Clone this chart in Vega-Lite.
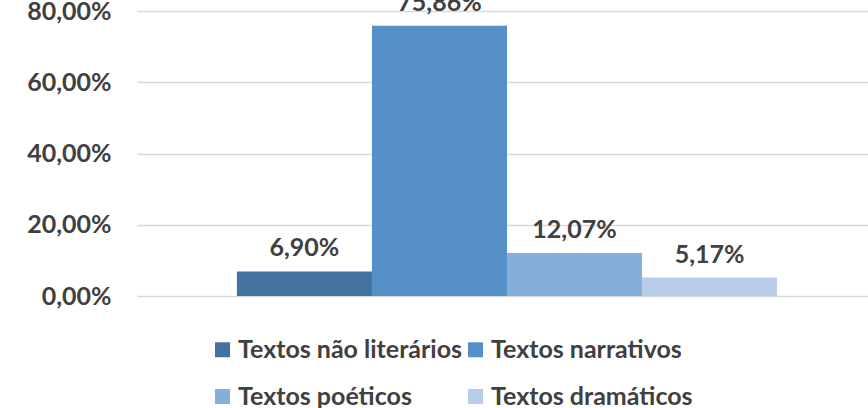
{
  "$schema": "https://vega.github.io/schema/vega-lite/v6.json",
  "autosize": {"type": "none"},
  "padding": {"left": 137, "top": 11, "right": 0, "bottom": 112},
  "width": 740,
  "height": 285,
  "background": "white",
  "config": {
    "locale": {"number": {"decimal": ",", "thousands": ".", "grouping": [3], "currency": ["", " €"]}},
    "view": {"stroke": null},
    "font": "Lato"
  },
  "data": {
    "values": [
      {"categoria": "Textos não literários", "valor": 0.0690},
      {"categoria": "Textos narrativos", "valor": 0.7586},
      {"categoria": "Textos poéticos", "valor": 0.1207},
      {"categoria": "Textos dramáticos", "valor": 0.0517}
    ]
  },
  "encoding": {
    "x": {
      "field": "categoria",
      "type": "nominal",
      "sort": null,
      "scale": {"paddingInner": 0, "paddingOuter": 0.74},
      "axis": null
    },
    "y": {
      "field": "valor",
      "type": "quantitative",
      "scale": {"domain": [0, 0.8], "nice": false},
      "axis": {
        "title": null,
        "values": [0, 0.2, 0.4, 0.6, 0.8],
        "format": ".2%",
        "domain": false,
        "ticks": false,
        "labelPadding": 26,
        "labelFont": "Lato",
        "labelFontSize": 25,
        "labelFontWeight": "bold",
        "labelColor": "#404040",
        "gridColor": "#d9d9d9",
        "gridWidth": 1.5
      }
    }
  },
  "layer": [
    {
      "mark": {"type": "bar"},
      "encoding": {
        "color": {
          "field": "categoria",
          "type": "nominal",
          "scale": {
            "domain": ["Textos não literários", "Textos narrativos", "Textos poéticos", "Textos dramáticos"],
            "range": ["#44729f", "#5591c7", "#85aedb", "#b8cde9"]
          },
          "legend": {
            "title": null,
            "orient": "none",
            "direction": "horizontal",
            "legendX": 73,
            "legendY": 326,
            "columns": 2,
            "columnPadding": 0,
            "rowPadding": 21,
            "symbolType": "square",
            "symbolSize": 225,
            "symbolStrokeWidth": 0,
            "labelOffset": 3,
            "labelFont": "Lato",
            "labelFontSize": 25,
            "labelFontWeight": "bold",
            "labelColor": "#404040",
            "labelLimit": 400
          }
        }
      }
    },
    {
      "mark": {
        "type": "text",
        "baseline": "alphabetic",
        "dy": -15,
        "font": "Lato",
        "fontSize": 25,
        "fontWeight": "bold",
        "color": "#404040"
      },
      "encoding": {
        "text": {"field": "valor", "type": "quantitative", "format": ".2%"}
      }
    }
  ]
}
